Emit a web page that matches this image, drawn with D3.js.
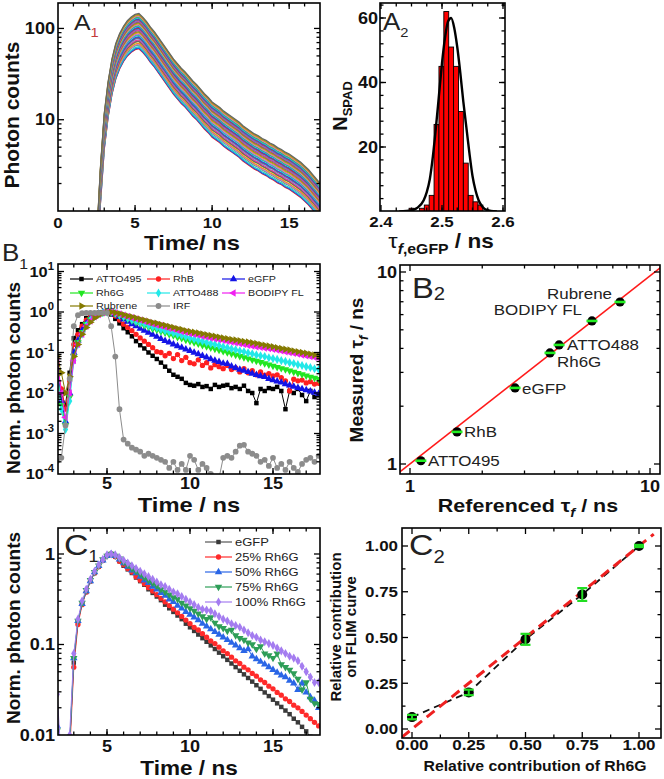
<!DOCTYPE html>
<html>
<head>
<meta charset="utf-8">
<script src="https://cdn.jsdelivr.net/npm/d3@7"></script>
<style>
  body { margin: 0; background: #fff; }
  text { font-family: "Liberation Sans", Arial, sans-serif; }
</style>
</head>
<body>
<svg id="fig" width="664" height="779"></svg>
<script>
// ---------- data ----------
// time channels (ns) shared by the decay curves
const decayTime = [2,2.25,2.5,2.75,3,3.25,3.5,3.75,4,4.25,4.5,4.75,5,5.25,5.5,5.75,6,6.25,6.5,6.75,7,7.25,7.5,7.75,8,8.25,8.5,8.75,9,9.25,9.5,9.75,10,10.25,10.5,10.75,11,11.25,11.5,11.75,12,12.25,12.5,12.75,13,13.25,13.5,13.75,14,14.25,14.5,14.75,15,15.25,15.5,15.75,16,16.25,16.5,16.75,17,17.25,17.5,17.75,18];

// A1: shape of a SPAD decay (log10, relative to peak) and peak counts of each SPAD curve
const a1Shape = [-3,-3,-2.5,-1.7,-1.1,-0.75,-0.5,-0.33,-0.22,-0.14,-0.08,-0.04,-0.01,0,-0.04,-0.09,-0.15,-0.2,-0.26,-0.32,-0.38,-0.44,-0.5,-0.55,-0.6,-0.64,-0.69,-0.74,-0.78,-0.83,-0.88,-0.92,-0.97,-1.0,-1.03,-1.07,-1.1,-1.13,-1.16,-1.19,-1.23,-1.26,-1.29,-1.32,-1.34,-1.37,-1.39,-1.42,-1.44,-1.47,-1.49,-1.52,-1.54,-1.57,-1.6,-1.63,-1.67,-1.71,-1.76,-1.81,-1.86,-1.9,-1.95,-2.0,-2.05];
const a1Peaks = [60,61,63,66,67,69,72,73,75,78,80,81,84,86,87,90,92,95,96,99,101,103,106,108,110,113,115,118,120,123,126,128,131,134,137,140,143,146];
const a1Colors = ['#ee1c1c','#1f5fe0','#25c6d0','#3cb44b','#b57ce8','#f08a24','#9a9a1a','#666666','#e040a0','#2b8fd8'];

// A2: lifetime histogram of eGFP over SPADs and its Gaussian fit
const a2BinCenter = [2.450,2.467,2.475,2.483,2.491,2.499,2.507,2.515,2.523,2.531,2.539,2.547,2.555,2.563];
const a2Count = [1,1,2,5,27,45,62,51,45,31,15,5,3,2];
const a2FitX = [2.43,2.45,2.46,2.47,2.475,2.48,2.485,2.49,2.495,2.5,2.505,2.51,2.515,2.52,2.525,2.53,2.535,2.54,2.545,2.55,2.555,2.56,2.565,2.57,2.58,2.59];
const a2FitY = [0,0.4,1.2,3.5,6,10,17,26,36,46,54,59,60,57,51,43,34,26,18,11,6.5,3.5,1.8,0.8,0.2,0];

// B1: normalized decays (log10 of normalized counts)
const b1Names = ['ATTO495','RhB','eGFP','Rh6G','ATTO488','BODIPY FL','Rubrene','IRF'];
const b1Colors = ['#000000','#ff2020','#1414e6','#22e622','#22e8e8','#f020f0','#857a00','#8c8c8c'];
const b1Log = [
  [-1.6,-2.0,-2.3,-1.5,-0.65,-0.45,-0.3,-0.15,-0.08,-0.04,-0.02,-0.01,0,-0.06,-0.17,-0.28,-0.4,-0.5,-0.6,-0.72,-0.82,-0.9,-1.0,-1.08,-1.16,-1.25,-1.35,-1.45,-1.55,-1.6,-1.65,-1.75,-1.8,-1.82,-1.78,-1.85,-1.83,-1.9,-1.8,-1.85,-1.82,-1.8,-1.88,-1.85,-1.9,-1.82,-1.95,-2.0,-2.25,-1.9,-1.95,-1.88,-1.9,-1.85,-1.95,-2.4,-1.95,-2.0,-1.9,-2.05,-2.2,-1.95,-2.1,-2.05,-2.1],
  [-1.3,-1.9,-2.4,-1.7,-0.8,-0.55,-0.35,-0.2,-0.12,-0.07,-0.03,-0.01,0,-0.02,-0.1,-0.2,-0.3,-0.38,-0.46,-0.55,-0.64,-0.72,-0.8,-0.88,-0.98,-1.0,-1.08,-1.02,-1.15,-1.05,-1.2,-1.12,-1.25,-1.28,-1.18,-1.32,-1.25,-1.38,-1.3,-1.35,-1.4,-1.32,-1.42,-1.38,-1.48,-1.4,-1.5,-1.45,-1.55,-1.48,-1.56,-1.52,-1.58,-1.55,-1.62,-1.7,-1.95,-1.66,-1.7,-1.68,-1.75,-1.72,-1.78,-1.76,-1.82],
  [-1.4,-2.2,-2.7,-2.0,-1.0,-0.7,-0.45,-0.28,-0.16,-0.09,-0.04,-0.01,0,-0.01,-0.06,-0.12,-0.18,-0.24,-0.3,-0.35,-0.41,-0.46,-0.51,-0.56,-0.61,-0.66,-0.71,-0.75,-0.8,-0.84,-0.88,-0.92,-0.96,-1.0,-1.04,-1.08,-1.12,-1.16,-1.2,-1.23,-1.27,-1.28,-1.34,-1.38,-1.42,-1.45,-1.48,-1.52,-1.55,-1.58,-1.6,-1.65,-1.68,-1.71,-1.74,-1.78,-1.81,-1.84,-1.87,-1.9,-1.93,-1.96,-1.99,-2.02,-2.06],
  [-1.5,-2.3,-2.8,-2.1,-1.1,-0.75,-0.5,-0.3,-0.18,-0.1,-0.05,-0.02,0,0,-0.04,-0.09,-0.13,-0.17,-0.21,-0.25,-0.29,-0.33,-0.37,-0.41,-0.44,-0.48,-0.51,-0.55,-0.58,-0.62,-0.65,-0.69,-0.72,-0.75,-0.78,-0.82,-0.85,-0.88,-0.91,-0.94,-0.97,-1.0,-1.03,-1.06,-1.09,-1.12,-1.15,-1.18,-1.21,-1.24,-1.27,-1.3,-1.33,-1.36,-1.39,-1.42,-1.45,-1.48,-1.51,-1.54,-1.57,-1.6,-1.63,-1.66,-1.68],
  [-1.5,-2.4,-2.9,-2.2,-1.2,-0.8,-0.55,-0.33,-0.2,-0.11,-0.05,-0.02,0,0,-0.03,-0.07,-0.11,-0.15,-0.19,-0.22,-0.26,-0.29,-0.33,-0.36,-0.39,-0.43,-0.46,-0.49,-0.52,-0.55,-0.58,-0.61,-0.64,-0.67,-0.7,-0.72,-0.75,-0.78,-0.8,-0.83,-0.86,-0.88,-0.91,-0.93,-0.96,-0.98,-1.01,-1.03,-1.06,-1.08,-1.1,-1.13,-1.15,-1.17,-1.2,-1.22,-1.25,-1.27,-1.3,-1.32,-1.35,-1.37,-1.4,-1.42,-1.44],
  [-1.2,-2.0,-2.6,-2.0,-1.2,-0.8,-0.55,-0.35,-0.22,-0.12,-0.06,-0.02,0,0,-0.02,-0.05,-0.08,-0.11,-0.14,-0.17,-0.2,-0.23,-0.26,-0.29,-0.32,-0.34,-0.37,-0.4,-0.42,-0.45,-0.48,-0.5,-0.53,-0.55,-0.57,-0.6,-0.62,-0.64,-0.66,-0.68,-0.7,-0.72,-0.74,-0.76,-0.78,-0.8,-0.82,-0.84,-0.86,-0.87,-0.89,-0.9,-0.92,-0.94,-0.96,-0.98,-1.0,-1.02,-1.04,-1.06,-1.08,-1.1,-1.12,-1.14,-1.17],
  [-1.1,-1.5,-2.0,-1.6,-1.1,-0.8,-0.55,-0.38,-0.25,-0.15,-0.08,-0.03,0,0,-0.02,-0.04,-0.07,-0.1,-0.12,-0.15,-0.18,-0.2,-0.23,-0.26,-0.28,-0.31,-0.33,-0.36,-0.38,-0.41,-0.43,-0.46,-0.48,-0.5,-0.52,-0.54,-0.56,-0.58,-0.6,-0.62,-0.64,-0.66,-0.68,-0.69,-0.71,-0.73,-0.74,-0.76,-0.78,-0.8,-0.82,-0.84,-0.86,-0.88,-0.9,-0.92,-0.94,-0.96,-0.98,-1.0,-1.02,-1.04,-1.06,-1.08,-1.1],
  [-3.68,-3.6,-2.8,-1.65,-0.35,-0.08,-0.03,-0.02,-0.02,-0.02,-0.02,-0.02,-0.02,-0.35,-1.1,-2.4,-3.15,-3.25,-3.35,-3.4,-3.45,-3.55,-3.5,-3.55,-3.6,-3.65,-3.7,-3.85,-3.7,-3.9,-3.75,-3.9,-3.55,-3.65,-3.9,-3.75,-3.85,-4.0,-4.1,-4.1,-3.6,-3.55,-3.6,-3.45,-3.3,-3.28,-3.45,-3.5,-3.55,-3.7,-3.65,-3.8,-3.6,-3.85,-3.75,-3.9,-3.7,-3.85,-3.95,-3.75,-3.65,-3.6,-3.7,-3.55,-3.7]
];

// B2: referenced vs measured lifetimes (ns)
const b2Names = ['ATTO495','RhB','eGFP','Rh6G','ATTO488','BODIPY FL','Rubrene'];
const b2Ref = [1.11,1.57,2.74,3.83,4.18,5.73,7.5];
const b2Meas = [1.04,1.47,2.49,3.79,4.17,5.56,6.98];
const b2Fit = [[0.9,0.902],[11.2,10.67]];

// C1: eGFP / Rh6G mixtures (log10 of normalized counts)
const c1Names = ['eGFP','25% Rh6G','50% Rh6G','75% Rh6G','100% Rh6G'];
const c1Colors = ['#3a3a3a','#ff2a2a','#2a66e6','#2e9e58','#a47cf0'];
const c1Log = [
  [-2.3,-2.5,-2.6,-2.1,-1.2,-0.75,-0.55,-0.42,-0.3,-0.21,-0.14,-0.07,-0.02,0,-0.03,-0.08,-0.13,-0.17,-0.21,-0.26,-0.3,-0.34,-0.39,-0.43,-0.47,-0.51,-0.56,-0.6,-0.64,-0.68,-0.72,-0.77,-0.81,-0.85,-0.89,-0.93,-0.97,-1.01,-1.05,-1.09,-1.13,-1.17,-1.21,-1.25,-1.29,-1.33,-1.37,-1.41,-1.45,-1.49,-1.53,-1.57,-1.61,-1.65,-1.69,-1.73,-1.77,-1.82,-1.86,-1.91,-1.96,-2.02,-2.1,-2.2,-2.3],
  [-2.5,-2.6,-2.6,-2.2,-1.25,-0.78,-0.56,-0.42,-0.3,-0.21,-0.14,-0.07,-0.02,0,-0.03,-0.08,-0.12,-0.16,-0.2,-0.25,-0.29,-0.33,-0.37,-0.41,-0.45,-0.49,-0.53,-0.57,-0.61,-0.65,-0.69,-0.73,-0.77,-0.81,-0.84,-0.88,-0.92,-0.96,-0.99,-1.03,-1.07,-1.1,-1.14,-1.18,-1.21,-1.25,-1.28,-1.32,-1.35,-1.39,-1.42,-1.46,-1.49,-1.53,-1.56,-1.6,-1.63,-1.67,-1.7,-1.74,-1.78,-1.82,-1.86,-1.9,-1.95],
  [-1.9,-2.4,-2.6,-2.1,-1.15,-0.74,-0.55,-0.41,-0.3,-0.2,-0.13,-0.07,-0.02,0,-0.02,-0.06,-0.1,-0.14,-0.18,-0.21,-0.25,-0.29,-0.32,-0.36,-0.39,-0.43,-0.46,-0.5,-0.53,-0.57,-0.6,-0.64,-0.67,-0.7,-0.73,-0.77,-0.8,-0.83,-0.86,-0.89,-0.92,-0.95,-0.98,-1.01,-1.04,-1.07,-1.05,-1.13,-1.16,-1.19,-1.22,-1.25,-1.28,-1.31,-1.34,-1.36,-1.4,-1.43,-1.5,-1.43,-1.53,-1.58,-1.62,-1.7,-1.74],
  [-1.95,-2.5,-2.6,-2.1,-1.15,-0.74,-0.54,-0.4,-0.29,-0.2,-0.13,-0.06,-0.02,0,-0.02,-0.05,-0.09,-0.12,-0.16,-0.19,-0.22,-0.26,-0.29,-0.32,-0.35,-0.39,-0.42,-0.45,-0.48,-0.5,-0.54,-0.57,-0.6,-0.63,-0.66,-0.69,-0.72,-0.7,-0.76,-0.8,-0.82,-0.85,-0.84,-0.9,-0.93,-0.95,-0.98,-1.0,-1.05,-1.02,-1.1,-1.12,-1.15,-1.1,-1.22,-1.25,-1.28,-1.32,-1.38,-1.5,-1.42,-1.6,-1.65,-1.66,-1.67],
  [-1.55,-2.3,-2.5,-2.0,-1.1,-0.72,-0.52,-0.39,-0.28,-0.19,-0.12,-0.06,-0.01,0,-0.01,-0.04,-0.07,-0.1,-0.13,-0.16,-0.19,-0.22,-0.25,-0.28,-0.31,-0.34,-0.36,-0.39,-0.42,-0.44,-0.47,-0.5,-0.53,-0.56,-0.59,-0.61,-0.62,-0.63,-0.66,-0.69,-0.72,-0.74,-0.77,-0.79,-0.81,-0.84,-0.87,-0.9,-0.92,-0.95,-0.97,-0.99,-1.01,-1.04,-1.07,-1.1,-1.13,-1.15,-1.18,-1.24,-1.3,-1.36,-1.42,-1.42,-1.45]
];

// C2: recovered vs. set Rh6G contribution
const c2Set = [0,0.25,0.5,0.75,1.0];
const c2Found = [0.065,0.2,0.49,0.735,1.0];
const c2Err = [0.012,0.015,0.03,0.035,0.006];
const c2Ideal = [[-0.045,-0.045],[1.065,1.065]];

// ---------- helpers ----------
const svg = d3.select('#fig');
const SX = 1.13; // the figure's text is slightly stretched horizontally

function htext(g, x, y, size, anchor, weight) {
  return g.append('text')
    .attr('transform', `translate(${x},${y}) scale(${SX},1)`)
    .attr('font-size', size)
    .attr('text-anchor', anchor)
    .attr('font-weight', weight || 'bold')
    .attr('fill', '#111');
}
function vtext(g, x, y, size) {
  return g.append('text')
    .attr('transform', `translate(${x},${y}) rotate(-90)`)
    .attr('font-size', size)
    .attr('text-anchor', 'middle')
    .attr('font-weight', 'bold')
    .attr('fill', '#111');
}
function panelLabel(x, y, letter, sub, size, subSize, subDy, subColor) {
  const t = svg.append('text')
    .attr('transform', `translate(${x},${y}) scale(${SX},1)`)
    .attr('font-family', 'Lato, "Open Sans", sans-serif')
    .attr('font-size', size).attr('fill', '#222');
  t.append('tspan').text(letter);
  t.append('tspan').attr('dy', subDy).attr('font-size', subSize).attr('fill', subColor || '#222').text(sub);
}
function logMinor(lo, hi) {
  const out = [];
  for (let e = Math.floor(Math.log10(lo)); e <= Math.ceil(Math.log10(hi)); e++) {
    for (let k = 2; k <= 9; k++) {
      const v = k * Math.pow(10, e);
      if (v >= lo && v <= hi) out.push(v);
    }
  }
  return out;
}
function axesBox(g, box, xs, ys, xMaj, xMin, yMaj, yMin) {
  const inX = p => p > box.l + 0.8 && p < box.r - 0.8;
  const inY = p => p > box.t + 0.8 && p < box.b - 0.8;
  const L = [];
  const addX = (vals, len) => vals.forEach(v => {
    const p = xs(v);
    if (inX(p)) { L.push([p, box.b, p, box.b - len]); L.push([p, box.t, p, box.t + len]); }
  });
  const addY = (vals, len) => vals.forEach(v => {
    const p = ys(v);
    if (inY(p)) { L.push([box.l, p, box.l + len, p]); L.push([box.r, p, box.r - len, p]); }
  });
  addX(xMaj, 6); addX(xMin, 3.5); addY(yMaj, 6); addY(yMin, 3.5);
  g.append('g').selectAll('line').data(L).join('line')
    .attr('x1', d => d[0]).attr('y1', d => d[1]).attr('x2', d => d[2]).attr('y2', d => d[3])
    .attr('stroke', '#000').attr('stroke-width', 1.3);
  g.append('rect').attr('x', box.l).attr('y', box.t)
    .attr('width', box.r - box.l).attr('height', box.b - box.t)
    .attr('fill', 'none').attr('stroke', '#000').attr('stroke-width', 1.6);
}
function clipFor(id, box) {
  svg.append('clipPath').attr('id', id).append('rect')
    .attr('x', box.l).attr('y', box.t).attr('width', box.r - box.l).attr('height', box.b - box.t);
  return svg.append('g').attr('clip-path', `url(#${id})`);
}
const symbolDefs = [
  { type: d3.symbolSquare, rot: 0, size: 20 },
  { type: d3.symbolCircle, rot: 0, size: 22 },
  { type: d3.symbolTriangle, rot: 0, size: 24 },
  { type: d3.symbolTriangle, rot: 180, size: 24 },
  { type: d3.symbolDiamond, rot: 0, size: 24 },
  { type: d3.symbolTriangle, rot: -90, size: 24 },
  { type: d3.symbolTriangle, rot: 90, size: 24 },
  { type: d3.symbolCircle, rot: 0, size: 26 }
];
function drawMarkers(g, pts, xs, ys, sym, color) {
  g.selectAll(null).data(pts).join('path')
    .attr('transform', d => `translate(${xs(d[0])},${ys(d[1])}) rotate(${sym.rot})`)
    .attr('d', d3.symbol(sym.type, sym.size)())
    .attr('fill', color);
}

// ---------- A1 ----------
{
  const box = { l: 58, r: 320, t: 3, b: 211 };
  const xs = d3.scaleLinear([0, 17], [58, 320]);
  const ys = d3.scaleLog([1, 190], [211, 3]);
  const g = clipFor('clipA1', box);
  const line = d3.line().x(d => xs(d[0])).y(d => ys(d[1]));
  a1Peaks.forEach((amp, k) => {
    const pts = a1Shape.map((v, i) => [decayTime[i], amp * Math.pow(10, v)]);
    g.append('path').datum(pts).attr('d', line)
      .attr('fill', 'none').attr('stroke', a1Colors[k % a1Colors.length]).attr('stroke-width', 1.3);
  });
  axesBox(svg, box, xs, ys, [0, 5, 10, 15], d3.range(1, 18), [10, 100], logMinor(1, 190));
  [0, 5, 10, 15].forEach(v => htext(svg, xs(v), 228, 15, 'middle').text(v));
  [10, 100].forEach(v => htext(svg, 55, ys(v), 16, 'end').attr('dy', '0.36em').text(v));
  htext(svg, 192, 250, 21, 'middle').text('Time/ ns');
  vtext(svg, 19, 115, 21).text('Photon counts');
  panelLabel(74, 30, 'A', '1', 22, 13, 7, '#c43a3a');
}

// ---------- A2 ----------
{
  const box = { l: 380, r: 505, t: 3, b: 211 };
  const xs = d3.scaleLinear([2.4, 2.6], [381, 503]);
  const ys = d3.scaleLinear([0, 60], [211.5, 18]);
  const g = clipFor('clipA2', box);
  const bw = xs(2.408) - xs(2.4);
  g.selectAll(null).data(a2BinCenter).join('rect')
    .attr('x', (d) => xs(d) - bw / 2).attr('width', bw)
    .attr('y', (d, i) => ys(a2Count[i])).attr('height', (d, i) => ys(0) - ys(a2Count[i]))
    .attr('fill', '#ff0000').attr('stroke', '#000').attr('stroke-width', 0.9);
  const fit = a2FitX.map((x, i) => [x, a2FitY[i]]);
  g.append('path').datum(fit)
    .attr('d', d3.line().x(d => xs(d[0])).y(d => ys(d[1])).curve(d3.curveMonotoneX))
    .attr('fill', 'none').attr('stroke', '#000').attr('stroke-width', 2.4);
  axesBox(svg, box, xs, ys, [2.4, 2.5, 2.6], d3.range(2.425, 2.6, 0.025), [20, 40, 60], d3.range(4, 65, 4));
  [2.4, 2.5, 2.6].forEach(v => htext(svg, xs(v), 227, 15, 'middle').text(v.toFixed(1)));
  [20, 40, 60].forEach(v => htext(svg, 378, ys(v), 16, 'end').attr('dy', '0.36em').text(v));
  const xl = htext(svg, 441, 248, 20, 'middle');
  xl.append('tspan').attr('font-weight', 'normal').attr('font-size', 21).text('τ');
  xl.append('tspan').attr('font-size', 14).attr('font-style', 'italic').attr('dy', 6).text('f');
  xl.append('tspan').attr('font-size', 14).text(',eGFP');
  xl.append('tspan').attr('dy', -6).text(' / ns');
  const yl = vtext(svg, 347, 106, 20);
  yl.append('tspan').text('N');
  yl.append('tspan').attr('font-size', 13).attr('dy', 5).text('SPAD');
  panelLabel(383, 30, 'A', '2', 23, 13, 7);
}

// ---------- B1 ----------
{
  const box = { l: 58, r: 320, t: 264, b: 474 };
  const xs = d3.scaleLinear([5, 15], [107, 273]);
  const ys = d3.scaleLog([1e-4, 10], [474, 271.5]);
  const g = clipFor('clipB1', box);
  const line = d3.line().x(d => xs(d[0])).y(d => ys(d[1]));
  b1Log.forEach((vals, k) => {
    const pts = vals.map((v, i) => [decayTime[i], Math.pow(10, v)]);
    g.append('path').datum(pts).attr('d', line)
      .attr('fill', 'none').attr('stroke', b1Colors[k]).attr('stroke-width', 1);
    drawMarkers(g, pts, xs, ys, symbolDefs[k], b1Colors[k]);
  });
  axesBox(svg, box, xs, ys, [5, 10, 15], d3.range(3, 18), [1e-4, 1e-3, 1e-2, 1e-1, 1, 10], logMinor(1e-4, 15));
  [5, 10, 15].forEach(v => htext(svg, xs(v), 489, 16, 'middle').text(v));
  [-4, -3, -2, -1, 0, 1].forEach(e => {
    const t = htext(svg, 54, ys(Math.pow(10, e)), 14.5, 'end').attr('dy', '0.36em');
    t.append('tspan').text('10');
    t.append('tspan').attr('font-size', 10).attr('dy', -7).text(e < 0 ? '-' + (-e) : e);
  });
  // legend
  const legX = [70, 147, 222], legY = [279, 293, 306];
  b1Names.forEach((name, k) => {
    const cx = legX[k % 3], cy = legY[Math.floor(k / 3)];
    svg.append('line').attr('x1', cx).attr('x2', cx + 23).attr('y1', cy).attr('y2', cy)
      .attr('stroke', b1Colors[k]).attr('stroke-width', 1.2);
    drawMarkers(svg, [[cx + 11.5, cy]], d => d, d => d, symbolDefs[k], b1Colors[k]);
    htext(svg, cx + 26, cy, 9.5, 'start', 'normal').attr('fill', '#222').attr('dy', '0.36em').text(name);
  });
  htext(svg, 189, 512, 21, 'middle').text('Time / ns');
  vtext(svg, 20, 378, 19).text('Norm. photon counts');
  panelLabel(2, 261, 'B', '1', 23, 14, 8);
}

// ---------- B2 ----------
{
  const box = { l: 400, r: 660, t: 265, b: 474 };
  const xs = d3.scaleLog([1, 10], [410, 650]);
  const ys = d3.scaleLog([1, 10], [464, 272]);
  const g = clipFor('clipB2', box);
  g.append('path').datum(b2Fit)
    .attr('d', d3.line().x(d => xs(d[0])).y(d => ys(d[1])))
    .attr('stroke', '#ff1a1a').attr('stroke-width', 1.6).attr('fill', 'none');
  b2Ref.forEach((r, i) => {
    const cx = xs(r), cy = ys(b2Meas[i]);
    g.append('circle').attr('cx', cx).attr('cy', cy).attr('r', 4.6).attr('fill', '#000');
    g.append('line').attr('x1', cx - 5.5).attr('x2', cx + 5.5).attr('y1', cy).attr('y2', cy)
      .attr('stroke', '#22ee22').attr('stroke-width', 2.6);
  });
  axesBox(svg, box, xs, ys, [1, 10], logMinor(1, 10), [1, 10], logMinor(1, 10));
  htext(svg, xs(1), 492, 16, 'middle').text('1');
  htext(svg, xs(10), 492, 16, 'middle').text('10');
  htext(svg, 397, ys(1), 16, 'end').attr('dy', '0.36em').text('1');
  htext(svg, 397, ys(10), 16, 'end').attr('dy', '0.36em').text('10');
  // dye annotations
  const ann = [
    { dx: 7, dy: 5, anchor: 'start' },   // ATTO495
    { dx: 7, dy: 5, anchor: 'start' },   // RhB
    { dx: 7, dy: 6, anchor: 'start' },   // eGFP
    { dx: 7, dy: 14, anchor: 'start' },  // Rh6G
    { dx: 8, dy: 5, anchor: 'start' },   // ATTO488
    { dx: -10, dy: -6, anchor: 'end' },  // BODIPY FL
    { dx: -8, dy: -3, anchor: 'end' }    // Rubrene
  ];
  b2Names.forEach((n, i) => {
    htext(svg, xs(b2Ref[i]) + ann[i].dx, ys(b2Meas[i]) + ann[i].dy, 15, ann[i].anchor, 'normal')
      .attr('font-family', 'Lato, "Open Sans", sans-serif').attr('fill', '#222').text(n);
  });
  const xl = htext(svg, 528, 512, 19, 'middle');
  xl.append('tspan').text('Referenced τ');
  xl.append('tspan').attr('font-size', 13).attr('font-style', 'italic').attr('dy', 5).text('f');
  xl.append('tspan').attr('dy', -5).text(' / ns');
  const yl = vtext(svg, 363, 370, 19);
  yl.append('tspan').text('Measured τ');
  yl.append('tspan').attr('font-size', 13).attr('font-style', 'italic').attr('dy', 5).text('f');
  yl.append('tspan').attr('dy', -5).text(' / ns');
  panelLabel(412, 298, 'B', '2', 29, 18, 2);
}

// ---------- C1 ----------
{
  const box = { l: 58, r: 320, t: 528, b: 735 };
  const xs = d3.scaleLinear([5, 15], [107, 273]);
  const ys = d3.scaleLog([0.01, 1], [735, 554]);
  const g = clipFor('clipC1', box);
  const line = d3.line().x(d => xs(d[0])).y(d => ys(d[1]));
  const c1Sym = [symbolDefs[0], symbolDefs[1], symbolDefs[2], symbolDefs[3], symbolDefs[4]];
  c1Log.forEach((vals, k) => {
    const pts = vals.map((v, i) => [decayTime[i], Math.pow(10, v)]);
    g.append('path').datum(pts).attr('d', line)
      .attr('fill', 'none').attr('stroke', k === 0 ? '#555' : c1Colors[k]).attr('stroke-width', 1);
    drawMarkers(g, pts, xs, ys, c1Sym[k], c1Colors[k]);
  });
  axesBox(svg, box, xs, ys, [5, 10, 15], d3.range(3, 18), [0.01, 0.1, 1], logMinor(0.01, 1.93));
  [5, 10, 15].forEach(v => htext(svg, xs(v), 752, 16, 'middle').text(v));
  [[1, '1'], [0.1, '0.1'], [0.01, '0.01']].forEach(([v, s]) =>
    htext(svg, 55, ys(v), 16, 'end').attr('dy', '0.36em').text(s));
  c1Names.forEach((name, k) => {
    const cy = 542 + k * 15;
    svg.append('line').attr('x1', 205).attr('x2', 232).attr('y1', cy).attr('y2', cy)
      .attr('stroke', k === 0 ? '#555' : c1Colors[k]).attr('stroke-width', 1.2);
    drawMarkers(svg, [[218.5, cy]], d => d, d => d, c1Sym[k], c1Colors[k]);
    htext(svg, 235, cy, 11.5, 'start', 'normal').attr('fill', '#222').attr('dy', '0.36em').text(name);
  });
  htext(svg, 189, 775, 20, 'middle').text('Time / ns');
  vtext(svg, 20, 628, 19).text('Norm. photon counts');
  panelLabel(64, 555, 'C', '1', 30, 16, 7);
}

// ---------- C2 ----------
{
  const box = { l: 402, r: 661, t: 528, b: 738 };
  const xs = d3.scaleLinear([0, 1], [412, 639]);
  const ys = d3.scaleLinear([0, 1], [729, 546]);
  const g = clipFor('clipC2', box);
  const line = d3.line().x(d => xs(d[0])).y(d => ys(d[1]));
  g.append('path').datum(c2Set.map((x, i) => [x, c2Found[i]])).attr('d', line)
    .attr('fill', 'none').attr('stroke', '#111').attr('stroke-width', 1.8).attr('stroke-dasharray', '7,5');
  g.append('path').datum(c2Ideal).attr('d', line)
    .attr('fill', 'none').attr('stroke', '#ee2020').attr('stroke-width', 3).attr('stroke-dasharray', '10,6');
  c2Set.forEach((x, i) => {
    const cx = xs(x), cy = ys(c2Found[i]);
    g.append('circle').attr('cx', cx).attr('cy', cy).attr('r', 5).attr('fill', '#000');
    const y1 = ys(c2Found[i] + c2Err[i]), y2 = ys(c2Found[i] - c2Err[i]);
    g.append('line').attr('x1', cx).attr('x2', cx).attr('y1', y1).attr('y2', y2)
      .attr('stroke', '#22dd22').attr('stroke-width', 2);
    [y1, y2].forEach(yy => g.append('line').attr('x1', cx - 5).attr('x2', cx + 5).attr('y1', yy).attr('y2', yy)
      .attr('stroke', '#22dd22').attr('stroke-width', 2.2));
  });
  const maj = [0, 0.25, 0.5, 0.75, 1];
  axesBox(svg, box, xs, ys, maj, [0.125, 0.375, 0.625, 0.875], maj, [0.125, 0.375, 0.625, 0.875]);
  maj.forEach(v => htext(svg, xs(v), 750, 15, 'middle').text(v.toFixed(2)));
  maj.forEach(v => htext(svg, 398, ys(v), 15, 'end').attr('dy', '0.36em').text(v.toFixed(2)));
  htext(svg, 535, 771, 14, 'middle').text('Relative contribution of Rh6G');
  vtext(svg, 341, 627, 15).text('Relative contribution');
  vtext(svg, 356, 627, 15).text('on FLIM curve');
  panelLabel(409, 555, 'C', '2', 30, 18, 8);
}
</script>
</body>
</html>
